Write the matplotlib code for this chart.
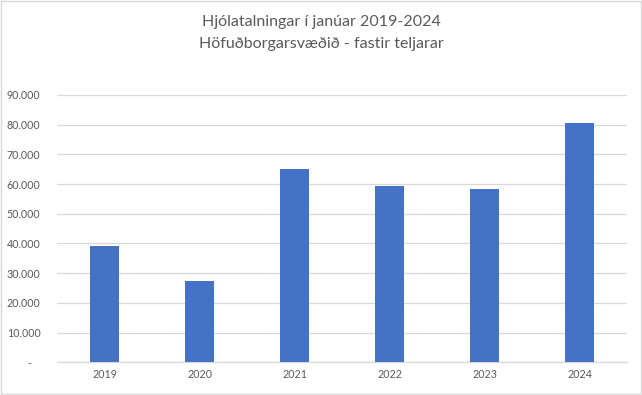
import matplotlib.pyplot as plt
from matplotlib.ticker import FuncFormatter

# data
years = ['2019', '2020', '2021', '2022', '2023', '2024']
counts = [39260, 27370, 65080, 59360, 58350, 80570]
yticks = [0, 10000, 20000, 30000, 40000, 50000, 60000, 70000, 80000, 90000]

plt.rcParams['font.family'] = ['Lato', 'DejaVu Sans']

fig = plt.figure(figsize=(6.42, 3.95), dpi=100)
ax = fig.add_axes([0.089, 0.0828, 0.888, 0.6767])

x = range(len(years))
ax.bar(x, counts, width=0.31, color='#4472C4', zorder=3)

ax.set_xlim(-0.5, len(years) - 0.5)
ax.set_ylim(0, 90000)
ax.set_xticks(list(x))
ax.set_xticklabels(years)
ax.set_yticks(yticks)


def fmt(v, pos):
    if v == 0:
        return '-   '
    return f'{int(v):,}'.replace(',', '.')


ax.yaxis.set_major_formatter(FuncFormatter(fmt))
ax.tick_params(axis='both', length=0, labelsize=7.7, colors='#595959')
ax.tick_params(axis='y', pad=12)
ax.tick_params(axis='x', pad=5)
ax.grid(axis='y', color='#D9D9D9', linewidth=0.9, zorder=0)
for s in ['top', 'right', 'left']:
    ax.spines[s].set_visible(False)
ax.spines['bottom'].set_color('#D9D9D9')
ax.spines['bottom'].set_linewidth(0.9)

fig.text(0.5, 0.944, 'Hjólatalningar í janúar 2019-2024', ha='center', va='center',
         fontsize=11.5, color='#595959')
fig.text(0.5, 0.889, 'Höfuðborgarsvæðið - fastir teljarar', ha='center', va='center',
         fontsize=11.5, color='#595959')

# light frame around the chart like in Excel
fig.patches.append(plt.Rectangle((0.001, 0.002), 0.997, 0.995, transform=fig.transFigure,
                                 fill=False, edgecolor='#D9D9D9', linewidth=1))

fig.savefig('out.png', dpi=100)
